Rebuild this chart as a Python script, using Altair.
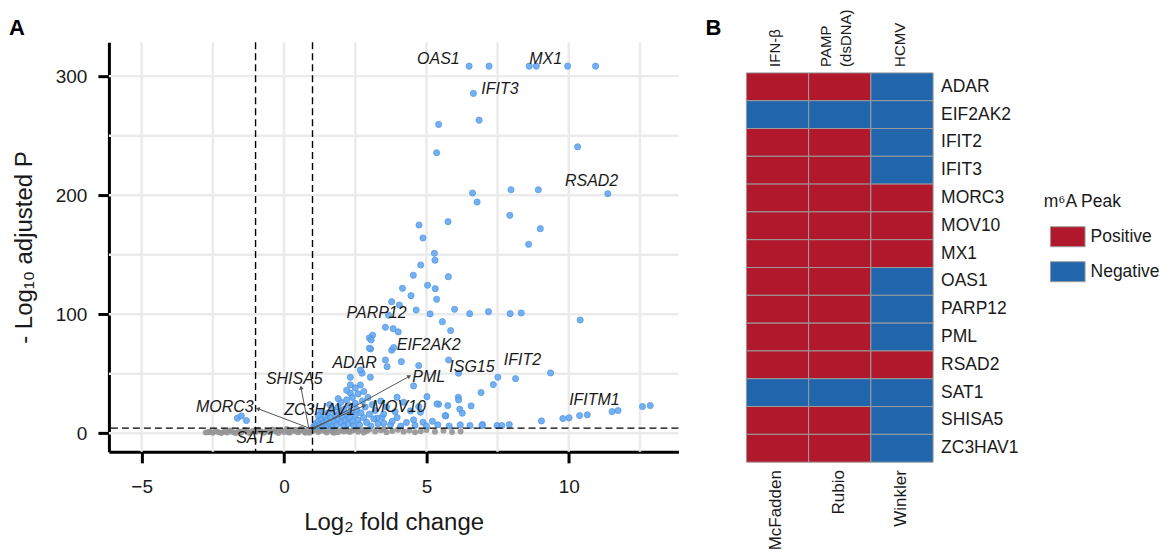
import math
import altair as alt
import pandas as pd

# ---------------- Panel A : volcano data ----------------
blue_x = [6.5, 7.2, 8.61, 8.86, 9.96, 10.94, 6.65, 6.85, 5.43, 5.36, 10.31, 11.37,
          6.62, 6.78, 7.97, 8.93, 7.93, 9.0, 8.59,
          4.74, 5.76, 4.88, 5.28, 5.30, 4.80, 4.54, 5.77,
          4.16, 5.04, 5.31, 4.46, 5.36, 3.78, 4.05, 4.64,
          3.67, 5.13, 5.99, 6.52, 7.18, 7.94, 8.33, 10.4,
          3.56, 3.83, 4.01, 5.56, 5.85, 3.11, 3.0, 3.06,
          3.04, 3.78, 3.85, 3.0, 3.56, 4.12, 3.62, 2.74, 3.03, 2.33, 4.73, 5.78, 6.13, 2.68, 2.33, 2.68, 2.33,
          4.55, 5.02, 3.97, 5.43, 5.75, 6.12, 6.57, 6.17, 6.26, 5.68, 4.55, 4.88, 5.21, 3.44, 4.73, 6.92, 7.35, 7.51, 8.13, 9.36,
          6.53, 6.97, 7.48, 7.65, 7.91, 9.04, 9.79, 10.01, 10.38, 10.65, 11.52, 11.73, 12.59, 12.86,
          5.37, 6.13, 4.44, 4.79, 5.66, 3.97, 3.27, 3.5, 3.74, 6.19, 6.95,
          -1.64, -1.5, -1.32,
          1.05, 1.1, 1.15, 1.2, 1.25, 1.3, 1.35, 1.4, 1.45, 1.5, 1.5, 1.55, 1.6, 1.65, 1.7, 1.7, 1.75, 1.8,
          1.85, 1.9, 1.9, 1.95, 2.0, 2.0, 2.05, 2.1, 2.1, 2.15, 2.2, 2.2, 2.25, 2.3, 2.3, 2.35, 2.4, 2.4,
          2.45, 2.5, 2.5, 2.55, 2.6, 2.6, 2.65, 2.7, 2.75, 2.8, 2.85, 2.9, 2.95, 3.0, 3.05, 3.1, 3.15, 3.2,
          3.3, 3.4, 3.5, 3.6, 3.8, 3.9, 4.1, 4.2, 4.3, 4.6, 5.0, 5.4, 5.8, 2.2, 2.5, 2.8, 1.3, 1.6, 1.9, 1.2]
blue_y = [308.4, 308.4, 308.4, 308.4, 308.4, 308.4, 285.5, 263, 259.4, 235.6, 240.6, 201.2,
          201.8, 194.2, 204.5, 204.5, 183, 171.8, 158.7,
          174.9, 177.7, 164, 151.1, 145.3, 141.3, 132.7, 131.5,
          121.7, 124.3, 121.4, 115.5, 112.5, 110.5, 107.7, 103.5,
          99.1, 100.2, 104.1, 100.4, 102.1, 100.4, 101, 95.1,
          89.0, 87.8, 85.1, 93.7, 86.2, 82.3, 80, 78.3,
          70.8, 69.7, 71.9, 71.4, 61.5, 60.1, 55.9, 50.4, 47, 47, 56.8, 61.5, 50.4, 53.1, 40.6, 40.5, 33.6,
          39.7, 30.7, 30.2, 24.3, 23.2, 30.2, 22.9, 20.2, 16.8, 14.5, 11.2, 9.2, 10, 13.4, 22.3, 34.1, 40.8, 47, 45.8, 50.6,
          6.4, 7.3, 6.4, 6.4, 7.3, 10.3, 12.3, 12.9, 14.8, 15.4, 18.1, 19, 22.4, 23.2,
          24.6, 28, 18.7, 17.6, 14.8, 13.1, 12.6, 8.4, 7, 7, 6.4,
          12.6, 14.5, 10.6,
          5.5, 8, 6, 10, 7, 12, 5.5, 9, 14, 6.5, 11, 17, 8, 13, 20, 5.5, 10, 15,
          7, 22, 12, 18, 9, 26, 14, 6, 20, 11, 16, 28, 8, 23, 13, 18, 10, 30,
          6, 15, 25, 20, 11, 33, 7, 17, 27, 13, 22, 9, 30, 16, 6, 24, 12, 19,
          8, 27, 16, 22, 10, 18, 6, 26, 9, 6.5, 6, 7, 6, 36, 38, 35, 18, 24, 29, 15]

grey_x = [-2.75, -2.6, -2.5, -2.4, -2.3, -2.2, -2.1, -2.0, -1.9, -1.8, -1.7, -1.6, -1.5, -1.4, -1.3,
          -1.2, -1.1, -1.0, -0.9, -0.8, -0.7, -0.6, -0.5, -0.4, -0.3, -0.2, -0.1, 0.0, 0.1, 0.2,
          0.3, 0.4, 0.5, 0.6, 0.7, 0.8, 0.9, 0.95, 1.0, 1.1, 1.2, 1.3, 1.4, 1.5, 1.6, 1.7, 1.8,
          1.9, 2.0, 2.1, 2.2, 2.3, 2.4, 2.5, 2.6, 2.7, 2.8, 2.9, 3.0, 3.2, 3.4, 3.6, 3.8, 4.0,
          4.2, 4.4, 4.6, 4.8, 5.0, 5.3, 5.6, 5.9, 6.2, -2.65, -1.95, -1.25, -0.55, 0.15, 0.45,
          0.75, -0.25, 0.55, 1.25, 1.75, 2.25, 2.85, 3.5]
grey_y = [0.5, 1.2, 0.3, 1.8, 0.8, 0.2, 1.5, 0.6, 2.2, 0.9, 0.2, 1.6, 0.5, 2.6, 1.1,
          0.3, 1.9, 0.7, 2.9, 1.3, 0.4, 2.1, 0.9, 3.1, 1.5, 0.2, 2.5, 1.0, 3.4, 0.5,
          1.8, 2.8, 0.8, 3.6, 1.4, 2.3, 0.4, 3.3, 1.6, 2.7, 0.9, 3.5, 1.9, 0.6, 2.9, 1.2, 3.2,
          0.7, 2.4, 1.5, 3.0, 0.9, 2.0, 3.3, 1.1, 2.6, 0.5, 1.8, 3.0, 1.3, 2.4, 0.8, 1.9, 2.9,
          1.1, 2.2, 0.7, 1.6, 2.6, 1.2, 2.0, 0.9, 1.5, 0.9, 1.3, 0.6, 1.4, 0.8, 1.2,
          0.3, 2.7, 2.2, 2.2, 0.3, 1.9, 2.8, 3.4]

label_genes = ["OAS1", "MX1", "IFIT3", "RSAD2", "PARP12", "EIF2AK2", "ADAR", "PML", "ISG15",
               "IFIT2", "IFITM1", "MOV10", "ZC3HAV1", "SHISA5", "MORC3", "SAT1"]
label_x = [5.42, 9.19, 7.58, 10.8, 3.25, 5.08, 2.48, 5.08, 6.6, 8.37, 10.9, 4.03, 1.25, 0.36, -2.08, -1.0]
label_y = [314, 314, 288.8, 211.8, 100.8, 74.1, 59.3, 47.5, 55.4, 61.5, 28, 22.4, 19.6, 45.3, 22.4, -4.2]

arrow_genes = ["MORC3", "SHISA5", "MOV10", "PML"]
arrow_x1 = [0.87, 0.87, 1.0, 1.0]
arrow_y1 = [4.4, 4.2, 4.5, 3.0]
arrow_x2 = [-0.9, 0.6, 2.8, 4.38]
arrow_y2 = [20.4, 37.8, 22.9, 47.5]

x_ticks = [-5, 0, 5, 10]
y_ticks = [0, 100, 200, 300]
x_grid = [-5, -2.5, 0, 2.5, 5, 7.5, 10, 12.5]
y_grid = [0, 50, 100, 150, 200, 250, 300]
fc_cutoffs = [-1, 1]
p_cutoffs = [4.2]

# ---------------- Panel B : heatmap data ----------------
genes = ["ADAR", "EIF2AK2", "IFIT2", "IFIT3", "MORC3", "MOV10", "MX1", "OAS1",
         "PARP12", "PML", "RSAD2", "SAT1", "SHISA5", "ZC3HAV1"]
studies = ["McFadden", "Rubio", "Winkler"]
conditions = ["IFN-β", "PAMP\n(dsDNA)", "HCMV"]
mcfadden = ["Positive", "Negative", "Positive", "Positive", "Positive", "Positive", "Positive",
            "Positive", "Positive", "Positive", "Positive", "Negative", "Positive", "Positive"]
rubio = ["Positive", "Negative", "Positive", "Positive", "Positive", "Positive", "Positive",
         "Positive", "Positive", "Positive", "Positive", "Negative", "Positive", "Positive"]
winkler = ["Negative", "Negative", "Negative", "Negative", "Positive", "Positive", "Positive",
           "Negative", "Negative", "Negative", "Positive", "Negative", "Negative", "Negative"]
legend_title = "m⁶A Peak"
legend_levels = ["Positive", "Negative"]
legend_colors = ["#B2182B", "#2166AC"]

# ---------------- styling / layout ----------------
FONT = "Liberation Sans"
TXT = "#1a1a1a"

# volcano plot area
W1, H1 = 570, 410
XD = [-6.15, 13.85]
YD = [-15.7, 328.5]
kx = W1 / (XD[1] - XD[0])
ky = H1 / (YD[1] - YD[0])

xs = alt.Scale(domain=XD, nice=False, zero=False)
ys = alt.Scale(domain=YD, nice=False, zero=False)
xaxis = alt.Axis(values=x_ticks, grid=False, title="Log₂ fold change", domainColor="black",
                 domainWidth=3, tickColor="black", tickWidth=3, tickSize=11, labelFontSize=19,
                 labelColor=TXT, labelPadding=15, labelFont=FONT, titleFont=FONT,
                 titleFontSize=24, titleFontWeight="normal", titleColor=TXT, titlePadding=14)
yaxis = alt.Axis(values=y_ticks, grid=False, title="- Log₁₀ adjusted P", domainColor="black",
                 domainWidth=3, tickColor="black", tickWidth=3, tickSize=11, labelFontSize=19,
                 labelColor=TXT, labelPadding=11, labelFont=FONT, titleFont=FONT,
                 titleFontSize=24, titleFontWeight="normal", titleColor=TXT, titlePadding=19)


def X(f):
    return alt.X(f, type="quantitative", scale=xs, axis=xaxis)


def Y(f):
    return alt.Y(f, type="quantitative", scale=ys, axis=yaxis)


blue_df = pd.DataFrame({"lfc": blue_x, "p": blue_y})
grey_df = pd.DataFrame({"lfc": grey_x, "p": grey_y})
lab_df = pd.DataFrame({"gene": label_genes, "lfc": label_x, "p": label_y})
arr_df = pd.DataFrame({"gene": arrow_genes, "x1": arrow_x1, "y1": arrow_y1,
                       "x2": arrow_x2, "y2": arrow_y2})
arr_df["ang"] = [math.degrees(math.atan2((b - a) * kx, (d - c) * ky)) % 360
                 for a, b, c, d in zip(arr_df.x1, arr_df.x2, arr_df.y1, arr_df.y2)]

vgrid = alt.Chart(pd.DataFrame({"g": x_grid})).mark_rule(color="#ebebeb", strokeWidth=2.5).encode(x=X("g"))
hgrid = alt.Chart(pd.DataFrame({"g": y_grid})).mark_rule(color="#ebebeb", strokeWidth=2.5).encode(y=Y("g"))
grey_pts = alt.Chart(grey_df).mark_circle(size=36, color="#959595", opacity=0.9).encode(x=X("lfc"), y=Y("p"))
blue_pts = alt.Chart(blue_df).mark_circle(size=38, color="#66a9f1", opacity=0.9,
                                          stroke="#4790e2", strokeWidth=0.8).encode(x=X("lfc"), y=Y("p"))
vdash = alt.Chart(pd.DataFrame({"c": fc_cutoffs})).mark_rule(color="black", strokeWidth=1.4,
                                                              strokeDash=[7, 4]).encode(x=X("c"))
hdash = alt.Chart(pd.DataFrame({"c": p_cutoffs})).mark_rule(color="black", strokeWidth=1.4,
                                                             strokeDash=[7, 4]).encode(y=Y("c"))
segs = alt.Chart(arr_df).mark_rule(color="#555555", strokeWidth=1).encode(
    x=X("x1"), y=Y("y1"), x2="x2", y2="y2")
heads = alt.Chart(arr_df).mark_point(shape="triangle", filled=True, color="#555555", size=22,
                                     opacity=1).encode(x=X("x2"), y=Y("y2"),
                                                       angle=alt.Angle("ang:Q", scale=None))
labels = alt.Chart(lab_df).mark_text(font=FONT, fontSize=16, fontStyle="italic", color=TXT,
                                     align="center", baseline="middle").encode(
    x=X("lfc"), y=Y("p"), text="gene:N")

panel_a_df = pd.DataFrame({"t": ["A"], "x": [XD[0] - 100 / kx], "y": [YD[1] + 14 / ky]})
panel_a = alt.Chart(panel_a_df).mark_text(font=FONT, fontSize=22, fontWeight="bold", color="black",
                                          align="left", baseline="middle").encode(
    x=X("x"), y=Y("y"), text="t:N")

volcano = alt.layer(vgrid, hgrid, grey_pts, blue_pts, vdash, hdash, segs, heads, labels,
                    panel_a).properties(width=W1, height=H1)

# ---------------- heatmap ----------------
W2, H2 = 460, 410
CW, RH = 62.3, 27.83           # cell size (px)
X0, Y0 = 44.0, 30.7            # heatmap offset inside plot area (px)
HXD = [-X0 / CW, (W2 - X0) / CW]
HYD = [-Y0 / RH, (H2 - Y0) / RH]
hxs = alt.Scale(domain=HXD, nice=False, zero=False)
hys = alt.Scale(domain=HYD, nice=False, zero=False, reverse=True)


def HX(f):
    return alt.X(f, type="quantitative", scale=hxs, axis=None)


def HY(f):
    return alt.Y(f, type="quantitative", scale=hys, axis=None)


cells = []
for ci, (study, vals) in enumerate(zip(studies, [mcfadden, rubio, winkler])):
    for ri, (g, v) in enumerate(zip(genes, vals)):
        cells.append({"gene": g, "study": study, "value": v, "c0": ci, "c1": ci + 1,
                      "r0": ri, "r1": ri + 1})
cell_df = pd.DataFrame(cells)

color_scale = alt.Scale(domain=legend_levels, range=legend_colors)
rects = alt.Chart(cell_df).mark_rect(stroke="#9c9c9c", strokeWidth=1).encode(
    x=HX("c0"), x2="c1", y=HY("r0"), y2="r1",
    fill=alt.Fill("value:N", scale=color_scale, legend=None))

row_df = pd.DataFrame({"gene": genes, "x": [len(studies) + 8 / CW] * len(genes),
                       "y": [i + 0.5 for i in range(len(genes))]})
row_lab = alt.Chart(row_df).mark_text(font=FONT, fontSize=17.5, color=TXT, align="left",
                                      baseline="middle").encode(x=HX("x"), y=HY("y"), text="gene:N")

LH = 20
TOP_SHIFT = -2 / CW            # small optical shift of rotated column labels
BOT_SHIFT = -1 / CW
top_df = pd.DataFrame({"t": conditions,
                       "x": [i + 0.5 + TOP_SHIFT - (c.count("\n") * 12) / CW
                             for i, c in enumerate(conditions)],
                       "y": [-6 / RH] * len(conditions)})
top_lab = alt.Chart(top_df).mark_text(font=FONT, fontSize=15, color=TXT, align="left",
                                      baseline="middle", angle=270, lineBreak="\n",
                                      lineHeight=LH).encode(x=HX("x"), y=HY("y"), text="t:N")

bot_df = pd.DataFrame({"t": studies, "x": [i + 0.5 + BOT_SHIFT for i in range(len(studies))],
                       "y": [len(genes) + 8 / RH] * len(studies)})
bot_lab = alt.Chart(bot_df).mark_text(font=FONT, fontSize=17, color=TXT, align="right",
                                      baseline="middle", angle=270).encode(
    x=HX("x"), y=HY("y"), text="t:N")

# legend built from marks
LX = (1041.7 - 744) / CW
leg_title_df = pd.DataFrame({"t": [legend_title], "x": [LX], "y": [(201.7 - 72.7) / RH]})
leg_title = alt.Chart(leg_title_df).mark_text(font=FONT, fontSize=17.5, color=TXT, align="left",
                                              baseline="middle").encode(x=HX("x"), y=HY("y"), text="t:N")
sw_top = (226.7 - 72.7) / RH
sw_step = 35 / RH
leg_df = pd.DataFrame({"value": legend_levels,
                       "x0": [(1048.3 - 744) / CW] * 2, "x1": [(1083.0 - 744) / CW] * 2,
                       "y0": [sw_top + i * sw_step for i in range(2)],
                       "y1": [sw_top + i * sw_step + 20 / RH for i in range(2)],
                       "lx": [(1088.5 - 744) / CW] * 2,
                       "ly": [sw_top + i * sw_step + 10 / RH for i in range(2)]})
leg_sw = alt.Chart(leg_df).mark_rect(stroke="#9c9c9c", strokeWidth=1).encode(
    x=HX("x0"), x2="x1", y=HY("y0"), y2="y1",
    fill=alt.Fill("value:N", scale=color_scale, legend=None))
leg_lab = alt.Chart(leg_df).mark_text(font=FONT, fontSize=17.5, color=TXT, align="left",
                                      baseline="middle").encode(x=HX("lx"), y=HY("ly"), text="value:N")

panel_b_df = pd.DataFrame({"t": ["B"], "x": [(703 - 744) / CW], "y": [(28 - 72.7) / RH]})
panel_b = alt.Chart(panel_b_df).mark_text(font=FONT, fontSize=22, fontWeight="bold", color="black",
                                          align="left", baseline="middle").encode(
    x=HX("x"), y=HY("y"), text="t:N")

heat = alt.layer(rects, row_lab, top_lab, bot_lab, leg_title, leg_sw, leg_lab,
                 panel_b).properties(width=W2, height=H2)

chart = alt.hconcat(volcano, heat, spacing=22).properties(
    padding={"left": 0, "top": 1, "right": 0, "bottom": 0}, background="white"
).configure_view(stroke=None)

chart.save("out.html", embed_options={"renderer": "svg", "actions": False})
